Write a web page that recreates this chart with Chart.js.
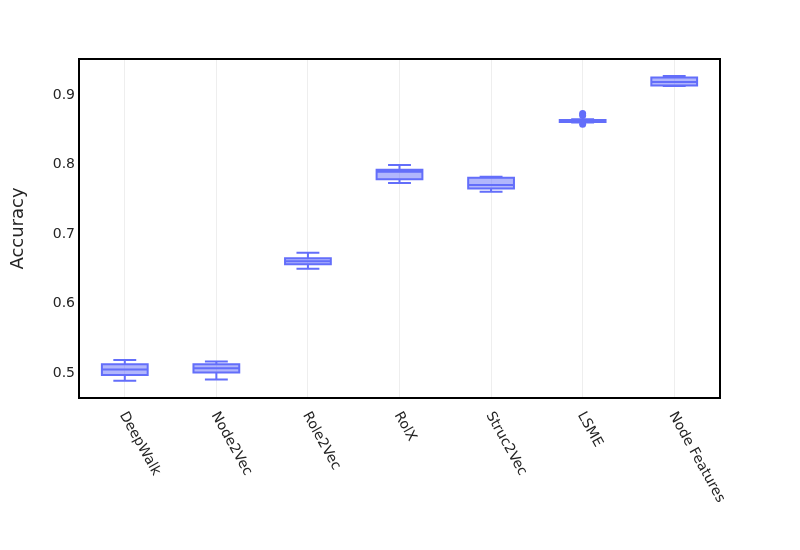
<!DOCTYPE html>
<html>
<head>
<meta charset="utf-8">
<script src="https://cdn.jsdelivr.net/npm/chart.js@4.4.1/dist/chart.umd.min.js"></script>
<style>
  html, body { margin: 0; padding: 0; background: #fff; }
  #wrap { width: 800px; height: 550px; position: relative; }
</style>
</head>
<body>
<div id="wrap"><canvas id="boxChart"></canvas></div>
<script>
  // Box plot values
  const categories = ['DeepWalk', 'Node2Vec', 'Role2Vec', 'RolX', 'Struc2Vec', 'LSME', 'Node Features'];
  const lowerWhisker = [0.486, 0.4875, 0.6472, 0.7705, 0.758, 0.8575, 0.9100];
  const q1Values = [0.494, 0.4976, 0.6535, 0.7758, 0.7625, 0.8583, 0.9108];
  const medianValues = [0.502, 0.504, 0.658, 0.7868, 0.7676, 0.8597, 0.9158];
  const q3Values = [0.5096, 0.5096, 0.6621, 0.7897, 0.778, 0.8612, 0.9223];
  const upperWhisker = [0.5158, 0.5134, 0.6702, 0.7964, 0.7796, 0.8622, 0.9245];
  const outlierValues = [[], [], [], [], [], [0.8705, 0.8675, 0.855], []];
  const yTicks = [0.5, 0.6, 0.7, 0.8, 0.9];

  const boxColor = '#636efa';
  const textColor = '#242424';
  const fontFamily = '"DejaVu Sans", sans-serif';

  // Outline, median, whiskers and outliers on top of the floating bars
  const boxPlugin = {
    id: 'boxParts',
    afterDatasetsDraw(chart) {
      const ctx = chart.ctx;
      const yScale = chart.scales.y;
      const meta = chart.getDatasetMeta(0);
      ctx.save();
      ctx.strokeStyle = boxColor;
      ctx.fillStyle = boxColor;
      ctx.lineWidth = 2;
      meta.data.forEach(function (bar, i) {
        const { x, width } = bar.getProps(['x', 'width'], true);
        const left = x - width / 2;
        const yQ1 = yScale.getPixelForValue(q1Values[i]);
        const yQ3 = yScale.getPixelForValue(q3Values[i]);
        const yMed = yScale.getPixelForValue(medianValues[i]);
        const yLo = yScale.getPixelForValue(lowerWhisker[i]);
        const yHi = yScale.getPixelForValue(upperWhisker[i]);
        const cap = width / 4;

        ctx.beginPath();
        ctx.rect(left, yQ3, width, yQ1 - yQ3);
        ctx.moveTo(left, yMed);
        ctx.lineTo(left + width, yMed);
        ctx.moveTo(x, yQ3);
        ctx.lineTo(x, yHi);
        ctx.moveTo(x - cap, yHi);
        ctx.lineTo(x + cap, yHi);
        ctx.moveTo(x, yQ1);
        ctx.lineTo(x, yLo);
        ctx.moveTo(x - cap, yLo);
        ctx.lineTo(x + cap, yLo);
        ctx.stroke();

        outlierValues[i].forEach(function (v) {
          ctx.beginPath();
          ctx.arc(x, yScale.getPixelForValue(v), 3.5, 0, Math.PI * 2);
          ctx.fill();
        });
      });
      ctx.restore();
    },
    afterDraw(chart) {
      const ctx = chart.ctx;
      const area = chart.chartArea;
      const xScale = chart.scales.x;
      ctx.save();
      // frame round the plot
      ctx.strokeStyle = '#000';
      ctx.lineWidth = 2;
      ctx.strokeRect(area.left, area.top, area.right - area.left, area.bottom - area.top);
      // slanted category labels
      ctx.fillStyle = textColor;
      ctx.font = '14px ' + fontFamily;
      ctx.textAlign = 'left';
      ctx.textBaseline = 'middle';
      categories.forEach(function (label, i) {
        ctx.save();
        ctx.translate(xScale.getPixelForValue(i) - 2, area.bottom + 15);
        ctx.rotate(61 * Math.PI / 180);
        ctx.fillText(label, 0, 0);
        ctx.restore();
      });
      ctx.restore();
    }
  };

  const ctx = document.getElementById('boxChart').getContext('2d');
  const boxChart = new Chart(ctx, {
    type: 'bar',
    data: {
      labels: categories,
      datasets: [{
        data: categories.map((c, i) => [q1Values[i], q3Values[i]]),
        backgroundColor: 'rgba(99, 110, 250, 0.5)',
        borderWidth: 0,
        barPercentage: 0.5,
        categoryPercentage: 1.0
      }]
    },
    options: {
      responsive: true,
      maintainAspectRatio: false,
      animation: false,
      devicePixelRatio: 1,
      layout: { padding: { left: 0, top: 59, right: 80, bottom: 152 } },
      plugins: {
        legend: { display: false },
        tooltip: { enabled: false }
      },
      scales: {
        x: {
          type: 'category',
          offset: true,
          grid: { offset: false, color: '#eeeeee', lineWidth: 1, drawTicks: false },
          border: { display: false },
          ticks: { display: false },
          afterFit: function (scale) { scale.height = 0; }
        },
        y: {
          min: 0.461,
          max: 0.949,
          grid: { display: false, drawTicks: false },
          border: { display: false },
          afterBuildTicks: function (scale) {
            scale.ticks = yTicks.map(v => ({ value: v }));
          },
          ticks: {
            padding: 4,
            labelOffset: 2,
            color: textColor,
            font: { family: fontFamily, size: 14 },
            callback: v => v.toFixed(1)
          },
          title: {
            display: true,
            text: 'Accuracy',
            color: textColor,
            font: { family: fontFamily, size: 18 },
            padding: { top: 8, bottom: 0 }
          },
          afterFit: function (scale) { scale.width = 79; }
        }
      }
    },
    plugins: [boxPlugin]
  });
</script>
</body>
</html>
